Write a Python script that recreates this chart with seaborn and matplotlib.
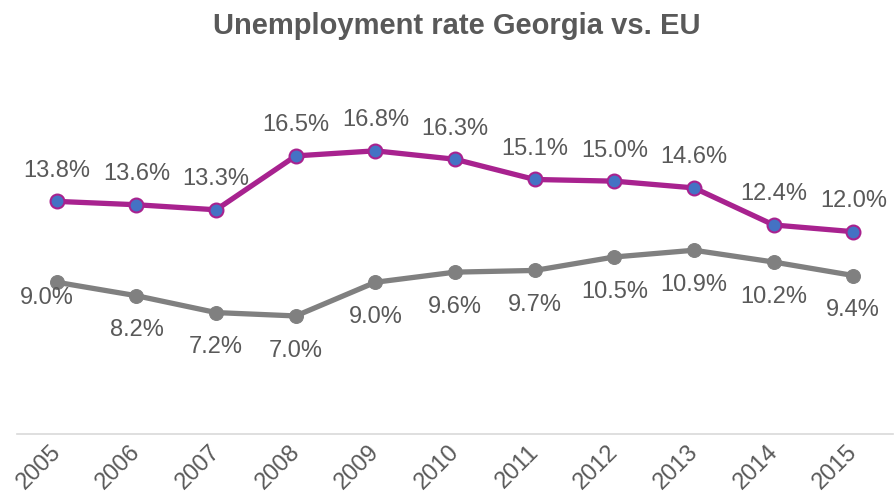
import pandas as pd
import seaborn as sns
import matplotlib.pyplot as plt
import matplotlib.transforms as mtrans

# unemployment rate, %
years = ['2005', '2006', '2007', '2008', '2009', '2010', '2011', '2012', '2013', '2014', '2015']
georgia = [13.8, 13.6, 13.3, 16.5, 16.8, 16.3, 15.1, 15.0, 14.6, 12.4, 12.0]
eu = [9.0, 8.2, 7.2, 7.0, 9.0, 9.6, 9.7, 10.5, 10.9, 10.2, 9.4]

sns.set_style('white')
plt.rcParams['font.family'] = ['Liberation Sans', 'DejaVu Sans']

df = pd.DataFrame({'year': years * 2,
                   'rate': georgia + eu,
                   'country': ['Georgia'] * len(years) + ['EU'] * len(years)})

txt = '#595959'
fs = 17
fig = plt.figure(figsize=(8.94, 4.97), dpi=100)
ax = fig.add_axes([0.019, 0.127, 0.98, 0.678])

sns.lineplot(data=df[df['country'] == 'EU'], x='year', y='rate', ax=ax, color='#808080',
             linewidth=3.8, marker='o', markersize=10, markerfacecolor='#808080',
             markeredgecolor='#808080', sort=False)
sns.lineplot(data=df[df['country'] == 'Georgia'], x='year', y='rate', ax=ax, color='#A8228F',
             linewidth=3.8, marker='o', markersize=10, markerfacecolor='#4472C4',
             markeredgecolor='#A8228F', markeredgewidth=1.5, sort=False)

for i, v in enumerate(georgia):
    ax.annotate(f'{v:.1f}%', (i, v), xytext=(0, 22), textcoords='offset points',
                ha='center', va='center', fontsize=fs, color=txt)
for i, v in enumerate(eu):
    dy = -11 if i == 0 else -25
    dx = -7 if i == 0 else 0
    ax.annotate(f'{v:.1f}%', (i, v), xytext=(dx, dy), textcoords='offset points',
                ha='center', va='center', fontsize=fs, color=txt)

ax.set_xlim(-0.5, len(years) - 0.5)
ax.set_ylim(0, 20)
ax.set_xlabel('')
ax.set_ylabel('')
ax.set_yticks([])
for s in ['top', 'left', 'right']:
    ax.spines[s].set_visible(False)
ax.spines['bottom'].set_color('#D9D9D9')
ax.spines['bottom'].set_linewidth(1.2)
ax.tick_params(axis='x', length=0, pad=5)
shift = mtrans.ScaledTranslation(-7 / 100, 0, fig.dpi_scale_trans)
for lbl in ax.get_xticklabels():
    lbl.set_rotation(45)
    lbl.set_ha('right')
    lbl.set_rotation_mode('anchor')
    lbl.set_fontsize(fs)
    lbl.set_color(txt)
    lbl.set_transform(lbl.get_transform() + shift)

fig.text(0.511, 0.948, 'Unemployment rate Georgia vs. EU', ha='center', va='center',
         fontsize=21, fontweight='bold', color=txt)

plt.savefig('out.png', dpi=100)
